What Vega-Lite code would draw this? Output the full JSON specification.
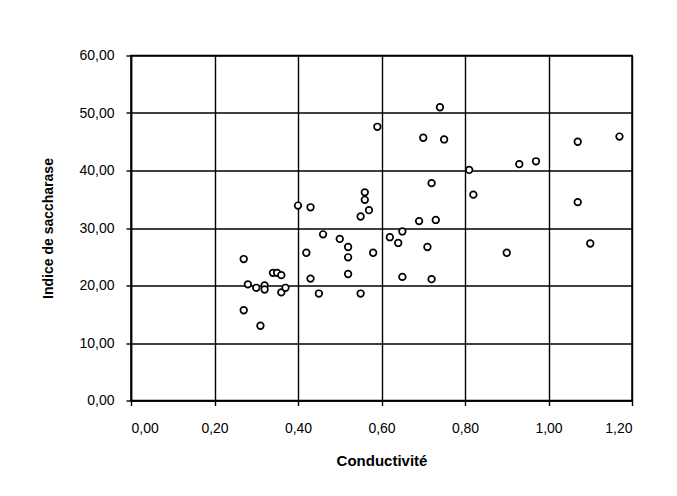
{
  "$schema": "https://vega.github.io/schema/vega-lite/v6.json",
  "autosize": {"type": "none"},
  "padding": {"left": 131, "top": 55.5, "right": 45, "bottom": 95.5},
  "width": 501,
  "height": 345,
  "background": "white",
  "data": {
    "values": [
      {"conductivite": 0.27, "saccharase": 24.6},
      {"conductivite": 0.27, "saccharase": 15.7},
      {"conductivite": 0.28, "saccharase": 20.2},
      {"conductivite": 0.30, "saccharase": 19.6},
      {"conductivite": 0.31, "saccharase": 13.0},
      {"conductivite": 0.32, "saccharase": 20.0},
      {"conductivite": 0.32, "saccharase": 19.3},
      {"conductivite": 0.34, "saccharase": 22.2},
      {"conductivite": 0.35, "saccharase": 22.2},
      {"conductivite": 0.36, "saccharase": 21.8},
      {"conductivite": 0.36, "saccharase": 18.8},
      {"conductivite": 0.37, "saccharase": 19.6},
      {"conductivite": 0.40, "saccharase": 33.9},
      {"conductivite": 0.42, "saccharase": 25.7},
      {"conductivite": 0.43, "saccharase": 33.6},
      {"conductivite": 0.43, "saccharase": 21.2},
      {"conductivite": 0.45, "saccharase": 18.6},
      {"conductivite": 0.46, "saccharase": 28.9},
      {"conductivite": 0.50, "saccharase": 28.1},
      {"conductivite": 0.52, "saccharase": 26.7},
      {"conductivite": 0.52, "saccharase": 24.9},
      {"conductivite": 0.52, "saccharase": 22.0},
      {"conductivite": 0.55, "saccharase": 32.0},
      {"conductivite": 0.55, "saccharase": 18.6},
      {"conductivite": 0.56, "saccharase": 36.2},
      {"conductivite": 0.56, "saccharase": 34.9},
      {"conductivite": 0.57, "saccharase": 33.1},
      {"conductivite": 0.58, "saccharase": 25.7},
      {"conductivite": 0.59, "saccharase": 47.6},
      {"conductivite": 0.62, "saccharase": 28.4},
      {"conductivite": 0.64, "saccharase": 27.4},
      {"conductivite": 0.65, "saccharase": 29.4},
      {"conductivite": 0.65, "saccharase": 21.5},
      {"conductivite": 0.69, "saccharase": 31.2},
      {"conductivite": 0.70, "saccharase": 45.7},
      {"conductivite": 0.71, "saccharase": 26.7},
      {"conductivite": 0.72, "saccharase": 37.8},
      {"conductivite": 0.72, "saccharase": 21.1},
      {"conductivite": 0.73, "saccharase": 31.4},
      {"conductivite": 0.74, "saccharase": 51.0},
      {"conductivite": 0.75, "saccharase": 45.4},
      {"conductivite": 0.81, "saccharase": 40.1},
      {"conductivite": 0.82, "saccharase": 35.8},
      {"conductivite": 0.90, "saccharase": 25.7},
      {"conductivite": 0.93, "saccharase": 41.1},
      {"conductivite": 0.97, "saccharase": 41.6},
      {"conductivite": 1.07, "saccharase": 45.0},
      {"conductivite": 1.07, "saccharase": 34.5},
      {"conductivite": 1.10, "saccharase": 27.3},
      {"conductivite": 1.17, "saccharase": 45.9}
    ]
  },
  "mark": {"type": "point", "shape": "circle", "filled": false, "fill": "white", "fillOpacity": 1, "stroke": "black", "strokeWidth": 1.7, "opacity": 1, "size": 44},
  "encoding": {
    "x": {
      "field": "conductivite",
      "type": "quantitative",
      "scale": {"domain": [0, 1.2], "nice": false, "zero": false},
      "axis": {
        "title": "Conductivité",
        "values": [0, 0.2, 0.4, 0.6, 0.8, 1.0, 1.2],
        "labelExpr": "replace(format(datum.value, '.2f'), '.', ',')",
        "titleY": 59.5,
        "titleBaseline": "middle",
        "titleFontSize": 15,
        "labelPadding": 16
      }
    },
    "y": {
      "field": "saccharase",
      "type": "quantitative",
      "scale": {"domain": [0, 60], "nice": false, "zero": false},
      "axis": {
        "title": "Indice de saccharase",
        "values": [0, 10, 20, 30, 40, 50, 60],
        "labelExpr": "replace(format(datum.value, '.2f'), '.', ',')",
        "titleX": -83,
        "titleY": 172.5,
        "titleAngle": -90,
        "titleAlign": "center",
        "titleBaseline": "middle",
        "labelPadding": 12
      }
    }
  },
  "config": {
    "font": "Liberation Sans",
    "view": {"stroke": "black", "strokeWidth": 1.5},
    "axis": {
      "grid": true,
      "gridColor": "black",
      "gridWidth": 1.4,
      "gridOpacity": 1,
      "domainColor": "black",
      "domainWidth": 1.5,
      "tickColor": "black",
      "tickWidth": 1.4,
      "tickSize": 5,
      "labelFont": "Liberation Sans",
      "labelFontSize": 14,
      "labelColor": "black",
      "titleFont": "Liberation Sans",
      "titleFontSize": 14,
      "titleFontWeight": "bold",
      "titleColor": "black"
    }
  }
}
